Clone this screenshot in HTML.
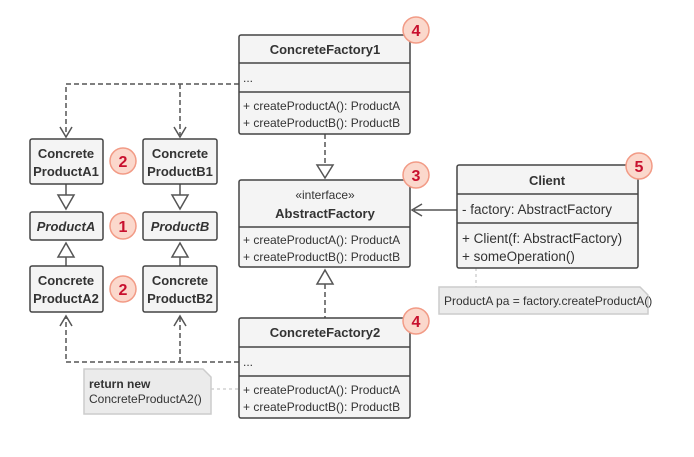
<!DOCTYPE html>
<html><head><style>
body{margin:0;background:#fff;}
svg text{font-family:"Liberation Sans",sans-serif;fill:#333;}
.b{font-weight:bold;}
</style></head><body>
<svg width="694" height="452" viewBox="0 0 694 452" xmlns="http://www.w3.org/2000/svg">
<rect width="694" height="452" fill="#fff"/>
<g fill="none" stroke="#555" stroke-width="1.5" stroke-dasharray="5,3">
<path d="M239 84H66V135M180 84V135"/>
<path d="M239 362H66V317M180 362V317"/>
<path d="M325 134V165M325 284V318"/>
</g>
<g fill="none" stroke="#555" stroke-width="1.5">
<path d="M60 127L66 137L72 127M174 127L180 137L186 127"/>
<path d="M60 326L66 316L72 326M174 326L180 316L186 326"/>
<path d="M66 184V195M180 184V195M66 257V266M180 257V266M457 210H414M422 204L412 210L422 216"/>
</g>
<g fill="#fff" stroke="#555" stroke-width="1.5">
<path d="M58 195H74L66 209Z"/><path d="M172 195H188L180 209Z"/>
<path d="M58 257H74L66 243Z"/><path d="M172 257H188L180 243Z"/>
<path d="M317 165H333L325 178Z"/><path d="M317 284H333L325 270Z"/>
</g>
<g stroke="#bbb" stroke-width="1" stroke-dasharray="3,3"><path d="M211 389H239M476 268V287"/></g>
<g fill="#ebebeb" stroke="#ccc" stroke-width="1.5">
<path d="M84 369H203L211 377V414H84Z"/>
<path d="M439 287H640L648 295V314H439Z"/>
</g>
<text x="89" y="388" font-size="12" class="b">return new</text>
<text x="89" y="403" font-size="12">ConcreteProductA2()</text>
<text x="444" y="305" font-size="12">ProductA pa = factory.createProductA()</text>
<g fill="#f4f4f4" stroke="#444" stroke-width="1.5">
<rect x="239" y="35" width="171" height="99" rx="2"/>
<rect x="239" y="180" width="171" height="87" rx="2"/>
<rect x="239" y="318" width="171" height="100" rx="2"/>
<rect x="457" y="165" width="181" height="103" rx="2"/>
<rect x="30" y="139" width="73" height="45" rx="2"/>
<rect x="143" y="139" width="74" height="45" rx="2"/>
<rect x="30" y="212" width="73" height="28" rx="2"/>
<rect x="143" y="212" width="74" height="28" rx="2"/>
<rect x="30" y="266" width="73" height="46" rx="2"/>
<rect x="143" y="266" width="74" height="46" rx="2"/>
</g>
<g stroke="#444" stroke-width="1.5">
<path d="M239 63H410M239 92H410M239 227H410M239 347H410M239 376H410M457 194H638M457 223H638"/>
</g>
<g font-size="12">
<text x="325" y="54" text-anchor="middle" class="b" font-size="13">ConcreteFactory1</text>
<text x="243" y="82">...</text>
<text x="243" y="110">+ createProductA(): ProductA</text>
<text x="243" y="127">+ createProductB(): ProductB</text>
<text x="325" y="199" text-anchor="middle">«interface»</text>
<text x="325" y="218" text-anchor="middle" class="b" font-size="13">AbstractFactory</text>
<text x="243" y="244">+ createProductA(): ProductA</text>
<text x="243" y="261">+ createProductB(): ProductB</text>
<text x="325" y="337" text-anchor="middle" class="b" font-size="13">ConcreteFactory2</text>
<text x="243" y="366">...</text>
<text x="243" y="394">+ createProductA(): ProductA</text>
<text x="243" y="411">+ createProductB(): ProductB</text>
<text x="547" y="185" text-anchor="middle" class="b" font-size="13">Client</text>
<text x="462" y="214" font-size="13.5">- factory: AbstractFactory</text>
<text x="462" y="243" font-size="13.5">+ Client(f: AbstractFactory)</text>
<text x="462" y="261" font-size="13.5">+ someOperation()</text>
<g class="b" text-anchor="middle" font-size="13">
<text x="66" y="158">Concrete</text><text x="66" y="176">ProductA1</text>
<text x="180" y="158">Concrete</text><text x="180" y="176">ProductB1</text>
<text x="66" y="231" font-style="italic">ProductA</text>
<text x="180" y="231" font-style="italic">ProductB</text>
<text x="66" y="285">Concrete</text><text x="66" y="303">ProductA2</text>
<text x="180" y="285">Concrete</text><text x="180" y="303">ProductB2</text>
</g>
</g>
<g fill="#fbd8cc" stroke="#f29b86" stroke-width="1.5">
<circle cx="123" cy="161" r="13"/><circle cx="123" cy="226" r="13"/><circle cx="123" cy="289" r="13"/>
<circle cx="416" cy="30" r="13"/><circle cx="416" cy="175" r="13"/><circle cx="416" cy="321" r="13"/><circle cx="639" cy="166" r="13"/>
</g>
<g font-size="16" font-weight="bold" text-anchor="middle">
<text x="123" y="167" style="fill:#c8102e">2</text><text x="123" y="232" style="fill:#c8102e">1</text><text x="123" y="295" style="fill:#c8102e">2</text>
<text x="416" y="36" style="fill:#c8102e">4</text><text x="416" y="181" style="fill:#c8102e">3</text><text x="416" y="327" style="fill:#c8102e">4</text><text x="639" y="172" style="fill:#c8102e">5</text>
</g>
</svg>
</body></html>
